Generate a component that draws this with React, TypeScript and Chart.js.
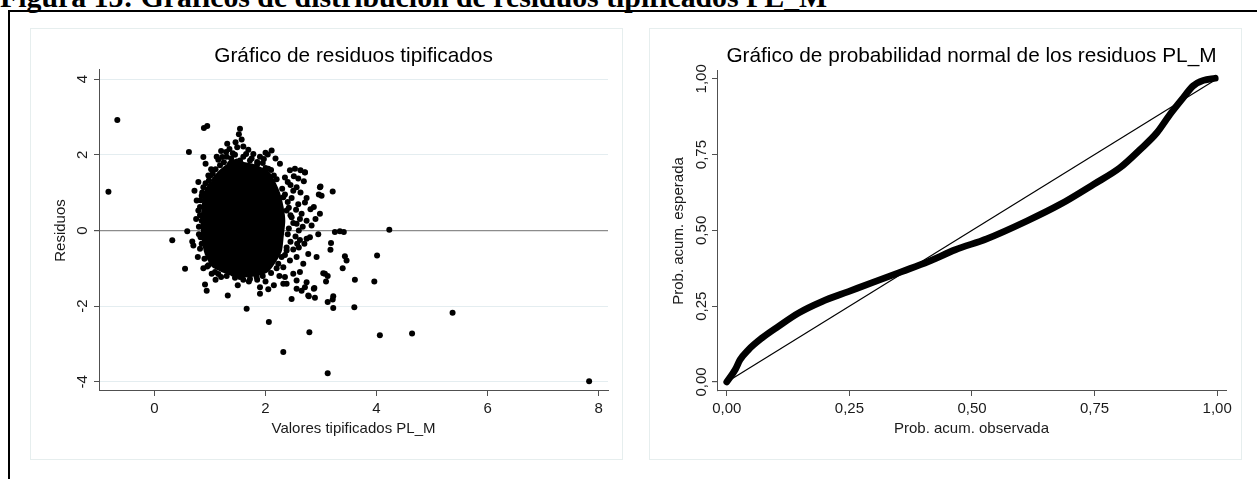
import { useEffect, useRef } from 'react';
import { Chart, registerables } from 'chart.js';

Chart.register(...registerables);

const FONT = '"Liberation Sans", Arial, sans-serif';
const INK = '#1a1a1a';
const AXIS = '#505050';

const FIGURE_CAPTION = 'Figura 15: Gráficos de distribución de residuos tipificados PL_M';

// ---------- Left chart: residuals vs standardized values ----------
const RES_TITLE = 'Gráfico de residuos tipificados';
const RES_X_TITLE = 'Valores tipificados PL_M';
const RES_Y_TITLE = 'Residuos';
const RES_X_TICKS = [0, 2, 4, 6, 8];
const RES_Y_TICKS = [-4, -2, 0, 2, 4];
const RES_X_RANGE = [-1.0, 8.17];
const RES_Y_RANGE = [-4.24, 4.24];

// outline of the solid, saturated core of the cloud
const RES_CORE: [number, number][] = [
  [1.03, 1.28], [1.18, 1.54], [1.33, 1.72], [1.48, 1.85], [1.6, 1.76], [1.75, 1.72], [1.9, 1.63],
  [2.05, 1.5], [2.14, 1.28], [2.23, 0.97], [2.29, 0.62], [2.32, 0.26], [2.29, -0.18], [2.26, -0.53],
  [2.14, -0.84], [2.02, -1.06], [1.84, -1.15], [1.6, -1.19], [1.42, -1.15], [1.24, -1.06], [1.06, -0.93],
  [0.94, -0.62], [0.88, -0.18], [0.87, 0.26], [0.89, 0.7], [0.94, 1.06], [1.03, 1.28],
];

// individually visible points
const RES_POINTS: [number, number][] = [
  [0.89, 2.71], [0.95, 2.76], [1.54, 2.69], [1.52, 2.54], [1.57, 2.4], [1.46, 2.33], [1.31, 2.29],
  [1.49, 2.2], [1.6, 2.22], [1.69, 2.13], [1.41, 2.04], [1.29, 2.07], [1.22, 1.94], [1.15, 1.87],
  [2.11, 2.11], [2.04, 2.01], [1.97, 1.89], [1.85, 1.81], [1.72, 1.85], [1.54, 1.85], [1.36, 1.76],
  [1.18, 1.72], [1.42, 1.59], [1.66, 1.63], [1.81, 1.54], [1.94, 1.5], [1.24, 1.5], [0.62, 2.07],
  [0.88, 1.94], [0.92, 1.76], [1.01, 1.45], [0.98, 1.32], [2.26, 1.76], [1.12, 1.37], [2.05, 1.63],
  [2.53, 1.63], [2.63, 1.59], [2.71, 1.53], [2.44, 1.59], [2.51, 1.43], [2.59, 1.37], [2.69, 1.3],
  [2.4, 1.28], [2.56, 1.14], [2.63, 1.0], [2.74, 0.86], [2.47, 0.86], [2.59, 0.69], [2.71, 0.74],
  [2.81, 0.56], [2.87, 0.62], [2.98, 0.44], [2.65, 0.44], [2.74, 0.26], [2.83, 0.13], [2.56, 0.18],
  [2.47, 0.35], [2.38, 0.53], [2.32, 0.88], [2.98, 1.14], [3.01, 0.92], [3.21, 1.03], [2.54, -0.16],
  [2.57, -0.35], [2.74, -0.22], [2.8, -0.18], [2.77, -0.62], [2.92, -0.7], [2.56, -0.7], [2.68, -0.88],
  [2.5, -1.14], [2.62, -1.1], [2.56, -1.32], [2.74, -1.37], [2.71, -1.5], [2.65, -1.59], [2.56, -1.54],
  [2.47, -1.81], [2.77, -1.72], [2.89, -1.78], [2.32, -0.97], [2.35, -1.23], [2.38, -1.41], [2.32, -1.41],
  [3.25, -0.04], [3.34, -0.02], [3.41, -0.04], [3.18, -0.33], [3.17, -0.51], [3.43, -0.68], [3.46, -0.79],
  [3.39, -1.0], [3.04, -1.13], [3.07, -1.14], [3.09, -1.35], [2.88, -1.52], [3.22, -1.74], [3.21, -1.82],
  [3.12, -1.89], [3.22, -2.05], [3.6, -2.03], [3.61, -1.3], [3.96, -1.35], [4.01, -0.66], [4.23, 0.02],
  [2.26, -0.18], [2.38, -0.53], [2.44, -0.79], [2.29, -0.7], [2.23, -0.88], [1.9, -1.5], [1.9, -1.67],
  [1.66, -2.07], [1.32, -1.72], [1.2, -1.23], [0.91, -1.43], [0.94, -1.59], [1.54, -1.23], [1.72, -1.28],
  [1.84, -1.23], [1.42, -1.14], [1.03, -1.14], [1.09, -1.1], [0.97, -0.92], [0.55, -1.01], [0.32, -0.26],
  [0.68, -0.29], [0.59, -0.02], [0.82, -0.48], [0.79, 1.28], [0.88, 1.14], [0.85, 0.92], [0.76, 0.79],
  [0.82, 0.62], [0.79, 0.53], [0.85, 0.26], [0.83, -0.18], [-0.67, 2.92], [-0.83, 1.02], [2.06, -2.42],
  [2.79, -2.69], [2.32, -3.21], [3.12, -3.77], [4.06, -2.77], [4.64, -2.72], [5.37, -2.17], [7.83, -3.98],
  [2.87, -1.54], [2.78, -1.74], [3.12, -1.2], [2.99, 1.16], [2.96, 0.95], [2.71, 1.54],
  // dense fringe hugging the core
  [1.05, 1.5], [1.1, 1.62], [1.25, 1.8], [1.3, 1.95], [1.38, 1.9], [1.45, 2.0], [1.6, 1.95], [1.65, 2.02],
  [1.75, 1.9], [1.85, 1.75], [1.95, 1.78], [2.0, 1.65], [2.1, 1.6], [2.15, 1.45], [2.2, 1.35], [1.02, 1.62],
  [0.97, 1.45], [1.12, 1.95], [1.2, 2.1], [1.35, 2.15], [1.78, 2.02], [1.9, 1.95], [2.0, 2.05], [2.18, 1.9],
  [2.3, 1.1], [2.35, 0.95], [2.4, 0.75], [2.42, 0.6], [2.45, 0.4], [2.5, 0.2], [2.42, 0.05], [2.4, -0.1],
  [2.45, -0.3], [2.38, -0.45], [2.35, -0.65], [2.5, -0.5], [2.6, -0.45], [2.6, 0.0], [2.62, 0.3], [2.55, 0.55],
  [2.5, 1.05], [2.45, 1.2], [2.35, 1.4], [2.67, 0.1], [2.7, -0.35], [2.9, 0.3], [2.95, -0.1], [2.62, -0.25],
  [2.2, -1.0], [2.1, -1.12], [1.95, -1.2], [1.85, -1.3], [1.7, -1.35], [1.6, -1.3], [1.45, -1.25], [1.3, -1.2],
  [1.15, -1.15], [2.0, -1.35], [2.25, -1.2], [2.15, -1.45], [1.1, -1.3], [1.5, -1.45], [2.05, -1.55],
  [0.82, 0.4], [0.8, 0.1], [0.8, -0.1], [0.85, -0.35], [0.9, -0.75], [0.95, -0.95], [0.83, 0.8], [0.86, 1.0],
  [0.75, 0.3], [0.7, -0.4], [0.78, -0.7], [0.88, -1.0], [0.72, 1.05], [0.92, 1.25],
];

// ---------- Right chart: normal P-P plot ----------
const PP_TITLE = 'Gráfico de probabilidad normal de los residuos PL_M';
const PP_X_TITLE = 'Prob. acum. observada';
const PP_Y_TITLE = 'Prob. acum. esperada';
const PP_TICKS = [0, 0.25, 0.5, 0.75, 1];
const PP_X_RANGE = [-0.02, 1.018];
const PP_Y_RANGE = [-0.03, 1.026];
const PP_OBSERVED = [
  0.0, 0.017, 0.027, 0.044, 0.071, 0.105, 0.146, 0.194, 0.248, 0.302, 0.357, 0.411, 0.466,
  0.53, 0.612, 0.68, 0.748, 0.802, 0.843, 0.877, 0.904, 0.928, 0.951, 0.972, 0.996,
];
const PP_EXPECTED = [
  0.0, 0.04, 0.073, 0.106, 0.144, 0.183, 0.227, 0.265, 0.298, 0.331, 0.364, 0.397, 0.436,
  0.472, 0.531, 0.586, 0.652, 0.707, 0.767, 0.822, 0.883, 0.932, 0.977, 0.995, 1.002,
];
const PP_DIAGONAL: [number, number][] = [[0, 0], [1, 1]];

const fmtInt = (v: number) => String(v);
const fmtComma = (v: number) => v.toFixed(2).replace('.', ',');

function rotatedYLabels(x: number, fmt: (v: number) => string) {
  return {
    id: 'rotatedYLabels',
    afterDraw(chart: any) {
      const s = chart.scales.y;
      const ctx = chart.ctx;
      ctx.save();
      ctx.font = `15px ${FONT}`;
      ctx.fillStyle = INK;
      ctx.textAlign = 'center';
      ctx.textBaseline = 'middle';
      for (const t of s.ticks) {
        const py = s.getPixelForValue(t.value);
        ctx.save();
        ctx.translate(x, py);
        ctx.rotate(-Math.PI / 2);
        ctx.fillText(fmt(t.value), 0, 0);
        ctx.restore();
      }
      ctx.restore();
    },
  };
}

function xAxis(range: number[], ticks: number[], fmt: (v: number) => string, title: string) {
  return {
    type: 'linear',
    min: range[0],
    max: range[1],
    afterBuildTicks: (axis: any) => { axis.ticks = ticks.map((v) => ({ value: v })); },
    afterFit: (s: any) => { s.height = 69; },
    grid: { drawOnChartArea: false, drawTicks: true, tickLength: 5, tickColor: AXIS },
    border: { display: true, color: AXIS, width: 1 },
    ticks: {
      color: INK, font: { family: FONT, size: 15 }, padding: 4, maxRotation: 0, autoSkip: false,
      callback: (v: any) => fmt(Number(v)),
    },
    title: { display: true, text: title, color: INK, font: { family: FONT, size: 15 }, padding: { top: 0, bottom: 22.5 } },
  };
}

function yAxis(range: number[], ticks: number[], title: string, width: number, gridColor: any, titlePad: number) {
  return {
    type: 'linear',
    min: range[0],
    max: range[1],
    afterBuildTicks: (axis: any) => { axis.ticks = ticks.map((v) => ({ value: v })); },
    afterFit: (s: any) => { s.width = width; },
    grid: {
      drawOnChartArea: gridColor !== null,
      color: gridColor || 'rgba(0,0,0,0)',
      lineWidth: (c: any) => (c.tick && c.tick.value === 0 ? 1.2 : 1),
      drawTicks: true, tickLength: 5, tickColor: AXIS,
    },
    border: { display: true, color: AXIS, width: 1 },
    ticks: { display: false },
    title: { display: true, text: title, color: INK, font: { family: FONT, size: 15 }, padding: { top: titlePad, bottom: 0 } },
  };
}

function titleOpts(text: string, padBottom: number) {
  return {
    display: true, text, fullSize: false, color: '#000',
    font: { family: FONT, size: 20.8, weight: 'normal' },
    padding: { top: 16.2, bottom: padBottom },
  };
}

export default function App() {
  const leftRef = useRef<HTMLCanvasElement>(null);
  const rightRef = useRef<HTMLCanvasElement>(null);

  useEffect(() => {
    const left = new Chart(leftRef.current as HTMLCanvasElement, {
      type: 'scatter',
      data: {
        datasets: [
          {
            data: RES_POINTS.map(([x, y]) => ({ x, y })),
            pointRadius: 3, pointBackgroundColor: '#000', pointBorderWidth: 0, showLine: false,
          } as any,
          {
            type: 'line',
            data: RES_CORE.map(([x, y]) => ({ x, y })),
            fill: 'shape', backgroundColor: '#000', borderColor: '#000', borderWidth: 4,
            borderJoinStyle: 'round', pointRadius: 0, tension: 0.2,
          } as any,
        ],
      },
      options: {
        responsive: false, animation: false, events: [],
        layout: { padding: { left: 0, right: 15, top: 0, bottom: 0 } },
        plugins: { legend: { display: false }, tooltip: { enabled: false }, title: titleOpts(RES_TITLE, 0.8) as any },
        scales: {
          x: xAxis(RES_X_RANGE, RES_X_TICKS, fmtInt, RES_X_TITLE) as any,
          y: yAxis(RES_Y_RANGE, RES_Y_TICKS, RES_Y_TITLE, 69,
            (c: any) => (c.tick && c.tick.value === 0 ? '#8c8c8c' : '#e4edf0'), 22) as any,
        },
      } as any,
      plugins: [rotatedYLabels(53, fmtInt)],
    });

    const right = new Chart(rightRef.current as HTMLCanvasElement, {
      type: 'scatter',
      data: {
        datasets: [
          {
            type: 'line',
            data: PP_DIAGONAL.map(([x, y]) => ({ x, y })),
            borderColor: '#000', borderWidth: 1.2, pointRadius: 0, fill: false,
          } as any,
          {
            type: 'line',
            data: PP_OBSERVED.map((x, i) => ({ x, y: PP_EXPECTED[i] })),
            borderColor: '#000', borderWidth: 6.8, pointRadius: 0, fill: false,
            cubicInterpolationMode: 'monotone', borderCapStyle: 'round', borderJoinStyle: 'round',
          } as any,
        ],
      },
      options: {
        responsive: false, animation: false, events: [],
        layout: { padding: { left: 0, right: 16, top: 0, bottom: 0 } },
        plugins: { legend: { display: false }, tooltip: { enabled: false }, title: titleOpts(PP_TITLE, 1.8) as any },
        scales: {
          x: xAxis(PP_X_RANGE, PP_TICKS, fmtComma, PP_X_TITLE) as any,
          y: yAxis(PP_Y_RANGE, PP_TICKS, PP_Y_TITLE, 68, null, 21) as any,
        },
      } as any,
      plugins: [rotatedYLabels(53, fmtComma)],
    });

    return () => { left.destroy(); right.destroy(); };
  }, []);

  const panel = (leftPx: number) => ({
    position: 'absolute' as const, left: leftPx, top: 28, width: 593, height: 432,
    border: '1px solid #e6eeee', boxSizing: 'border-box' as const, background: '#fff',
  });
  const canvasStyle = (leftPx: number) => ({
    position: 'absolute' as const, left: leftPx, top: 28, width: 593, height: 432,
  });

  return (
    <div style={{ position: 'fixed', left: 0, top: 0, width: 1257, height: 479, overflow: 'hidden', background: '#fff' }}>
      <div style={{
        position: 'absolute', left: 0, top: -18.5, whiteSpace: 'nowrap',
        fontFamily: '"Liberation Serif", "Times New Roman", serif', fontWeight: 'bold',
        fontSize: 29.8, lineHeight: '30px', color: '#000',
      }}>{FIGURE_CAPTION}</div>
      <div style={{ position: 'absolute', left: 8, top: 10, width: 1300, height: 520, border: '2px solid #000', boxSizing: 'border-box' }} />
      <div style={panel(30)} />
      <div style={panel(649)} />
      <canvas ref={leftRef} width={593} height={432} style={canvasStyle(30)} />
      <canvas ref={rightRef} width={593} height={432} style={canvasStyle(649)} />
    </div>
  );
}
